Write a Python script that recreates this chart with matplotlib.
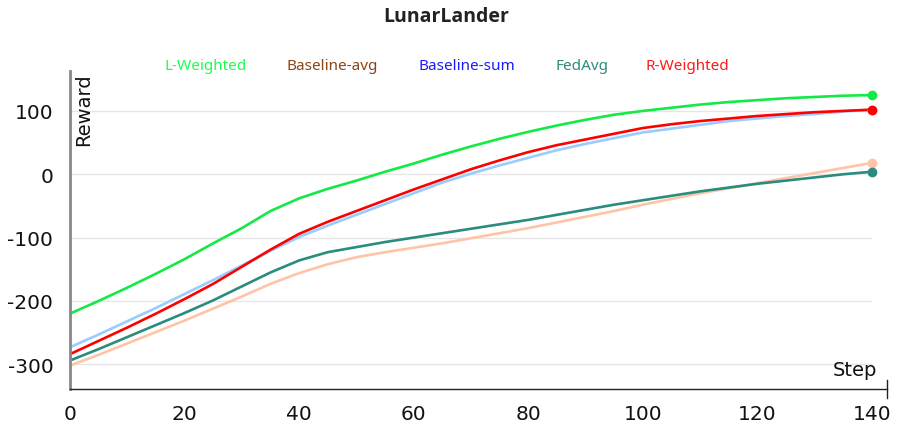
import numpy as np
import matplotlib
matplotlib.use("Agg")
import matplotlib.pyplot as plt

# --- data ---
steps = list(range(0, 145, 5))

l_weighted = [-220, -200, -179, -157, -134, -109, -85, -58, -38, -23, -10, 4, 17, 31, 44,
              56, 67, 77, 86, 94, 100, 105, 110, 114, 117, 120, 122, 124, 125]
baseline_avg = [-302, -285, -267, -249, -231, -212, -193, -173, -156, -142, -131, -123, -116, -109, -101,
                -93, -85, -76, -67, -58, -48, -39, -30, -22, -14, -6, 2, 10, 18]
baseline_sum = [-273, -253, -232, -211, -189, -167, -144, -121, -99, -81, -64, -47, -30, -13, 1,
                14, 26, 38, 48, 57, 66, 72, 78, 84, 88, 92, 95, 99, 102]
fedavg = [-294, -276, -257, -238, -219, -199, -177, -155, -136, -123, -115, -107, -100, -93, -86,
          -79, -72, -64, -56, -48, -41, -34, -27, -21, -15, -10, -5, 0, 4]
r_weighted = [-284, -263, -242, -220, -197, -173, -146, -119, -94, -75, -58, -41, -24, -8, 8,
              22, 35, 46, 55, 64, 73, 79, 84, 88, 92, 95, 98, 100, 102]

labels = ["L-Weighted", "Baseline-avg", "Baseline-sum", "FedAvg", "R-Weighted"]
label_colors = ["#1aff4d", "#8b4513", "#1a1aff", "#2e8b7a", "#ff1a1a"]
line_colors = ["#14ea46", "#ffc4a6", "#99ccff", "#2a8c7e", "#ff0000"]
series = [l_weighted, baseline_avg, baseline_sum, fedavg, r_weighted]
# draw order: back to front
draw_order = [1, 2, 3, 0, 4]

yticks = [100, 0, -100, -200, -300]
xticks = [0, 20, 40, 60, 80, 100, 120, 140]

# --- figure ---
fig = plt.figure(figsize=(8.97, 4.27), dpi=100)
ax = fig.add_axes([70 / 897, 37 / 427, 817 / 897, 318 / 427])
ax.set_xlim(0, 142.6)
ax.set_ylim(-339, 163)

for yv in yticks:
    ax.hlines(yv, 0, 140, color="#e6e6e6", lw=1.0, zorder=0)

for i in draw_order:
    ax.plot(steps, series[i], color=line_colors[i], lw=1.9, zorder=2,
            solid_capstyle="round", solid_joinstyle="round")
    ax.plot(steps[-1], series[i][-1], "o", color=line_colors[i], ms=6, zorder=3)

# spines
for s in ["top", "right"]:
    ax.spines[s].set_visible(False)
ax.spines["left"].set_color("#888888")
ax.spines["left"].set_linewidth(2.0)
ax.spines["bottom"].set_color("#222222")
ax.spines["bottom"].set_linewidth(1.0)

ax.set_yticks(yticks)
ax.set_yticklabels([str(v) for v in yticks], fontsize=14.5, family="DejaVu Sans")
ax.set_xticks(xticks)
ax.set_xticklabels([str(v) for v in xticks], fontsize=14.5, family="DejaVu Sans")
ax.tick_params(axis="both", length=0, colors="#111111")
ax.tick_params(axis="y", pad=12)
ax.tick_params(axis="x", pad=11)

# end tick on the x axis
ax.plot([142.6, 142.6], [-339 - 14, -339 + 14], color="#222222", lw=1.0,
        clip_on=False, zorder=4)

ax.text(0.005, 0.997, "Reward", transform=ax.transAxes, rotation=90,
        ha="left", va="top", fontsize=14, family="DejaVu Sans", color="#111111")
ax.text(0.988, 0.03, "Step", transform=ax.transAxes,
        ha="right", va="bottom", fontsize=14, family="DejaVu Sans", color="#111111")

fig.text(446 / 897, 1 - 17 / 427, "LunarLander", ha="center", va="center",
         fontsize=14, fontweight="bold", family="Open Sans", color="#222222")

legend_x = [206, 332, 467, 582, 687]
for lx, lab, c in zip(legend_x, labels, label_colors):
    fig.text(lx / 897, 1 - 67 / 427, lab, ha="center", va="center",
             fontsize=11, family="Noto Sans", color=c)

fig.savefig("out.png", dpi=100)
